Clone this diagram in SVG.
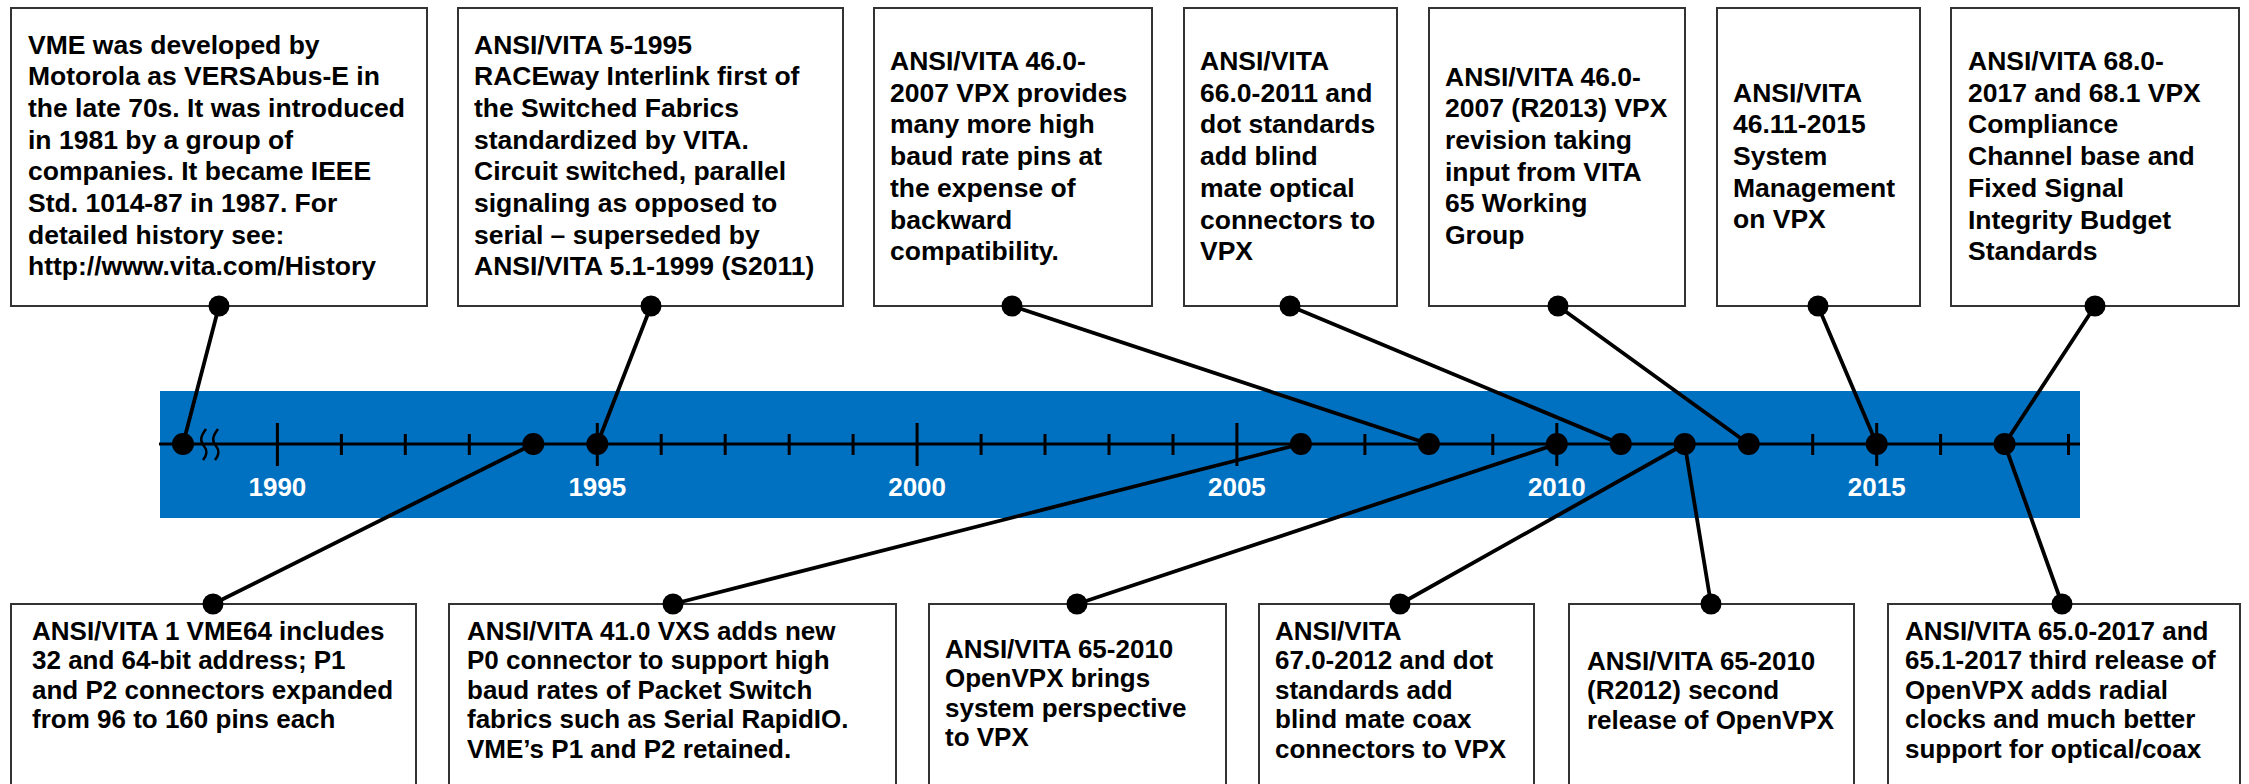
<svg xmlns="http://www.w3.org/2000/svg" width="2249" height="784" viewBox="0 0 2249 784">
<style>
.box{fill:#fff;stroke:#333;stroke-width:2}
.t{font-family:"Liberation Sans",Arial,sans-serif;font-weight:bold;font-size:26.5px;fill:#000}
.b{font-family:"Liberation Sans",Arial,sans-serif;font-weight:bold;font-size:26px;fill:#000}
.yr{font-family:"Liberation Sans",Arial,sans-serif;font-weight:bold;font-size:26px;fill:#fff;text-anchor:middle}
.ax{stroke:#000;stroke-width:3;fill:none}
.con line{stroke:#000;stroke-width:3.8;stroke-linecap:round}
.dot{fill:#000}
</style>
<rect x="160" y="391" width="1920" height="127" fill="#0070C0"/>
<g id="axis">
<line class="ax" x1="159" y1="444" x2="2080" y2="444"/>
<path class="ax" d="M277.4 423V466M597.3 423V466M917.1 423V466M1236.9 423V466M1556.8 423V466M1876.7 423V466"/>
<path class="ax" d="M341.4 434V455M405.3 434V455M469.3 434V455M533.3 434V455M661.2 434V455M725.2 434V455M789.2 434V455M853.1 434V455M981.1 434V455M1045 434V455M1109 434V455M1173 434V455M1300.9 434V455M1364.9 434V455M1428.9 434V455M1492.8 434V455M1620.8 434V455M1684.7 434V455M1748.7 434V455M1812.7 434V455M1940.6 434V455M2004.6 434V455M2068.5 434V455"/>
<path d="M206 429C200 437 200 441 204 446S207 455 203 460M218 429C212 437 212 441 216 446S219 455 215 460" fill="none" stroke="#000" stroke-width="2.5"/>
<text class="yr" x="277.4" y="496">1990</text>
<text class="yr" x="597.3" y="496">1995</text>
<text class="yr" x="917.1" y="496">2000</text>
<text class="yr" x="1236.9" y="496">2005</text>
<text class="yr" x="1556.8" y="496">2010</text>
<text class="yr" x="1876.7" y="496">2015</text>
</g>
<g id="top1"><rect class="box" x="11" y="8" width="416" height="298"/>
<text class="t" y="53.5"><tspan x="28">VME was developed by</tspan><tspan x="28" dy="31.7">Motorola as VERSAbus-E in</tspan><tspan x="28" dy="31.7">the late 70s. It was introduced</tspan><tspan x="28" dy="31.7">in 1981 by a group of</tspan><tspan x="28" dy="31.7">companies. It became IEEE</tspan><tspan x="28" dy="31.7">Std. 1014-87 in 1987. For</tspan><tspan x="28" dy="31.7">detailed history see:</tspan><tspan x="28" dy="31.7">http://www.vita.com/History</tspan></text></g>
<g id="top2"><rect class="box" x="458" y="8" width="385" height="298"/>
<text class="t" y="53.5"><tspan x="474">ANSI/VITA 5-1995</tspan><tspan x="474" dy="31.7">RACEway Interlink first of</tspan><tspan x="474" dy="31.7">the Switched Fabrics</tspan><tspan x="474" dy="31.7">standardized by VITA.</tspan><tspan x="474" dy="31.7">Circuit switched, parallel</tspan><tspan x="474" dy="31.7">signaling as opposed to</tspan><tspan x="474" dy="31.7">serial – superseded by</tspan><tspan x="474" dy="31.7">ANSI/VITA 5.1-1999 (S2011)</tspan></text></g>
<g id="top3"><rect class="box" x="874" y="8" width="278" height="298"/>
<text class="t" y="70"><tspan x="890">ANSI/VITA 46.0-</tspan><tspan x="890" dy="31.7">2007 VPX provides</tspan><tspan x="890" dy="31.7">many more high</tspan><tspan x="890" dy="31.7">baud rate pins at</tspan><tspan x="890" dy="31.7">the expense of</tspan><tspan x="890" dy="31.7">backward</tspan><tspan x="890" dy="31.7">compatibility.</tspan></text></g>
<g id="top4"><rect class="box" x="1184" y="8" width="213" height="298"/>
<text class="t" y="70"><tspan x="1200">ANSI/VITA</tspan><tspan x="1200" dy="31.7">66.0-2011 and</tspan><tspan x="1200" dy="31.7">dot standards</tspan><tspan x="1200" dy="31.7">add blind</tspan><tspan x="1200" dy="31.7">mate optical</tspan><tspan x="1200" dy="31.7">connectors to</tspan><tspan x="1200" dy="31.7">VPX</tspan></text></g>
<g id="top5"><rect class="box" x="1429" y="8" width="256" height="298"/>
<text class="t" y="85.5"><tspan x="1445">ANSI/VITA 46.0-</tspan><tspan x="1445" dy="31.7">2007 (R2013) VPX</tspan><tspan x="1445" dy="31.7">revision taking</tspan><tspan x="1445" dy="31.7">input from VITA</tspan><tspan x="1445" dy="31.7">65 Working</tspan><tspan x="1445" dy="31.7">Group</tspan></text></g>
<g id="top6"><rect class="box" x="1717" y="8" width="203" height="298"/>
<text class="t" y="101.5"><tspan x="1733">ANSI/VITA</tspan><tspan x="1733" dy="31.7">46.11-2015</tspan><tspan x="1733" dy="31.7">System</tspan><tspan x="1733" dy="31.7">Management</tspan><tspan x="1733" dy="31.7">on VPX</tspan></text></g>
<g id="top7"><rect class="box" x="1951" y="8" width="288" height="298"/>
<text class="t" y="70"><tspan x="1968">ANSI/VITA 68.0-</tspan><tspan x="1968" dy="31.7">2017 and 68.1 VPX</tspan><tspan x="1968" dy="31.7">Compliance</tspan><tspan x="1968" dy="31.7">Channel base and</tspan><tspan x="1968" dy="31.7">Fixed Signal</tspan><tspan x="1968" dy="31.7">Integrity Budget</tspan><tspan x="1968" dy="31.7">Standards</tspan></text></g>
<g id="bot1"><rect class="box" x="11" y="604" width="405" height="200"/>
<text class="b" y="639.5"><tspan x="32">ANSI/VITA 1 VME64 includes</tspan><tspan x="32" dy="29.5">32 and 64-bit address; P1</tspan><tspan x="32" dy="29.5">and P2 connectors expanded</tspan><tspan x="32" dy="29.5">from 96 to 160 pins each</tspan></text></g>
<g id="bot2"><rect class="box" x="449" y="604" width="447" height="200"/>
<text class="b" y="639.5"><tspan x="467">ANSI/VITA 41.0 VXS adds new</tspan><tspan x="467" dy="29.5">P0 connector to support high</tspan><tspan x="467" dy="29.5">baud rates of Packet Switch</tspan><tspan x="467" dy="29.5">fabrics such as Serial RapidIO.</tspan><tspan x="467" dy="29.5">VME’s P1 and P2 retained.</tspan></text></g>
<g id="bot3"><rect class="box" x="929" y="604" width="297" height="200"/>
<text class="b" y="657.5"><tspan x="945">ANSI/VITA 65-2010</tspan><tspan x="945" dy="29.5">OpenVPX brings</tspan><tspan x="945" dy="29.5">system perspective</tspan><tspan x="945" dy="29.5">to VPX</tspan></text></g>
<g id="bot4"><rect class="box" x="1259" y="604" width="275" height="200"/>
<text class="b" y="639.5"><tspan x="1275">ANSI/VITA</tspan><tspan x="1275" dy="29.5">67.0-2012 and dot</tspan><tspan x="1275" dy="29.5">standards add</tspan><tspan x="1275" dy="29.5">blind mate coax</tspan><tspan x="1275" dy="29.5">connectors to VPX</tspan></text></g>
<g id="bot5"><rect class="box" x="1569" y="604" width="285" height="200"/>
<text class="b" y="669.5"><tspan x="1587">ANSI/VITA 65-2010</tspan><tspan x="1587" dy="29.5">(R2012) second</tspan><tspan x="1587" dy="29.5">release of OpenVPX</tspan></text></g>
<g id="bot6"><rect class="box" x="1888" y="604" width="352" height="200"/>
<text class="b" y="639.5"><tspan x="1905">ANSI/VITA 65.0-2017 and</tspan><tspan x="1905" dy="29.5">65.1-2017 third release of</tspan><tspan x="1905" dy="29.5">OpenVPX adds radial</tspan><tspan x="1905" dy="29.5">clocks and much better</tspan><tspan x="1905" dy="29.5">support for optical/coax</tspan></text></g>
<g id="connectors" class="con">
<line x1="219" y1="306" x2="183" y2="444"/>
<line x1="651" y1="306" x2="597.3" y2="444"/>
<line x1="1012" y1="306" x2="1428.9" y2="444"/>
<line x1="1290" y1="306" x2="1620.8" y2="444"/>
<line x1="1558" y1="306" x2="1748.7" y2="444"/>
<line x1="1818" y1="306" x2="1876.7" y2="444"/>
<line x1="2095" y1="306" x2="2004.6" y2="444"/>
<line x1="213" y1="604" x2="533.3" y2="444"/>
<line x1="673" y1="604" x2="1300.9" y2="444"/>
<line x1="1077" y1="604" x2="1556.8" y2="444"/>
<line x1="1400" y1="604" x2="1684.7" y2="444"/>
<line x1="1711" y1="604" x2="1684.7" y2="444"/>
<line x1="2062" y1="604" x2="2004.6" y2="444"/>
<g class="dot">
<circle cx="219" cy="306" r="10.5"/><circle cx="651" cy="306" r="10.5"/><circle cx="1012" cy="306" r="10.5"/><circle cx="1290" cy="306" r="10.5"/><circle cx="1558" cy="306" r="10.5"/><circle cx="1818" cy="306" r="10.5"/><circle cx="2095" cy="306" r="10.5"/>
<circle cx="213" cy="604" r="10.5"/><circle cx="673" cy="604" r="10.5"/><circle cx="1077" cy="604" r="10.5"/><circle cx="1400" cy="604" r="10.5"/><circle cx="1711" cy="604" r="10.5"/><circle cx="2062" cy="604" r="10.5"/>
<circle cx="183" cy="444" r="11"/><circle cx="533.3" cy="444" r="11"/><circle cx="597.3" cy="444" r="11"/><circle cx="1300.9" cy="444" r="11"/><circle cx="1428.9" cy="444" r="11"/><circle cx="1556.8" cy="444" r="11"/><circle cx="1620.8" cy="444" r="11"/><circle cx="1684.7" cy="444" r="11"/><circle cx="1748.7" cy="444" r="11"/><circle cx="1876.7" cy="444" r="11"/><circle cx="2004.6" cy="444" r="11"/>
</g>
</g>
</svg>
